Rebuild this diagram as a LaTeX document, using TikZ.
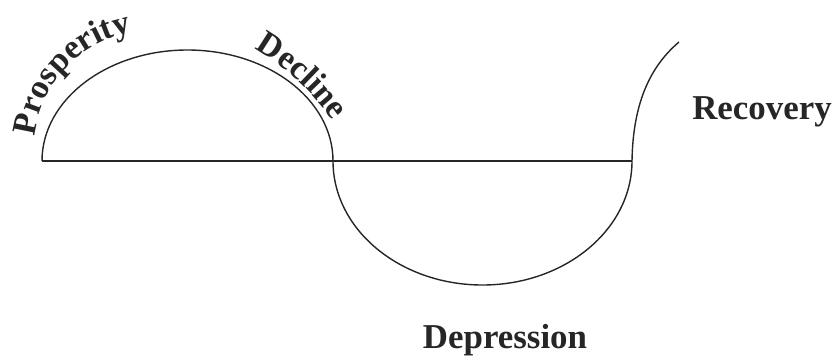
\documentclass[tikz,border=0pt]{standalone}
\usepackage{fontspec}
\setmainfont{Liberation Serif}
\usetikzlibrary{decorations.text}

\begin{document}
\begin{tikzpicture}[x=1bp, y=-1bp,
        curve/.style={line width=1.4bp, black!85},
        phase/.style={font=\fontsize{35}{35}\selectfont\bfseries, text=black!85},
        arclabel/.style={decorate, decoration={text along path, text align=center,
                    text={|\fontsize{34}{34}\selectfont\bfseries\color{black!85}|#1}}}]
        \useasboundingbox (0,0) rectangle (837,360);
        \coordinate (start) at (42,161);
        \coordinate (mid) at (333,161);
        \coordinate (low) at (632,161);
        \coordinate (tip) at (679,42);

        % trade cycle
        \draw[curve] (start) -- (low);
        \draw[curve] (start) arc[start angle=180, end angle=360, x radius=145.5, y radius=111];
        \draw[curve] (mid) arc[start angle=180, end angle=0, x radius=149.5, y radius=124];
        \draw[curve] (low) .. controls (633,100) and (652,65) .. (tip);

        % labels
        \path[arclabel=Prosperity] (154,150) ++(186:120) arc[start angle=186, end angle=260, radius=120];
        \path[arclabel=Decline] (135.5,257.5) ++(300:240) arc[start angle=300, end angle=325, radius=240];
        \node[phase] (rec) at (762,112) {Recovery};
        \node[phase] (dep) at (505,340) {Depression};
    \end{tikzpicture}
\end{document}
